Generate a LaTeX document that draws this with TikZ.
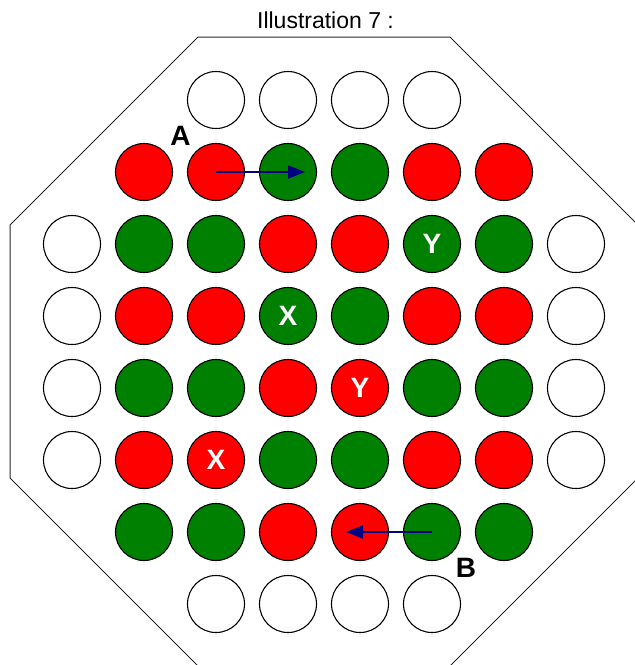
\documentclass[tikz,border=0pt]{standalone}
\usepackage{fontspec}
\setmainfont{Liberation Sans}
\usepackage{xcolor}
\usepackage{tikz}
\usetikzlibrary{arrows.meta,positioning,calc}
\definecolor{pegred}{RGB}{255,0,0}
\definecolor{peggreen}{RGB}{0,128,0}
\definecolor{movblue}{RGB}{0,0,128}

\begin{document}
\begin{tikzpicture}[
    x=1pt, y=-1pt,
    disc/.style={circle, draw=black, line width=1.1pt, minimum size=57pt, inner sep=0pt},
    pe/.style={fill=white},
    pr/.style={fill=pegred},
    pg/.style={fill=peggreen},
    tag/.style={inner sep=0pt, text=white, font=\fontsize{28}{28}\selectfont\bfseries},
    lbl/.style={inner sep=0pt, font=\fontsize{28}{28}\selectfont\bfseries},
    mov/.style={-{Triangle[length=17pt, width=13pt]}, line width=1.8pt, draw=movblue},
]
  \useasboundingbox (0,0) rectangle (635,665);
  \clip (0,0) rectangle (635,665);

  % title
  \node[anchor=base, inner sep=0pt, font=\fontsize{23}{23}\selectfont] (title) at (325.5,28) {Illustration 7 :};

  % board outline
  \draw[line width=1pt, black!85] (198,37) -- (450,37) -- (638,225) -- (638,478)
    -- (450,666) -- (198,666) -- (10,478) -- (10,225) -- cycle;

  % pegs, row by row (first column / colours)
  \foreach \r/\first/\cols in {0/2/{e,e,e,e},
                               1/1/{r,r,g,g,r,r},
                               2/0/{e,g,g,r,r,g,g,e},
                               3/0/{e,r,r,g,g,r,r,e},
                               4/0/{e,g,g,r,r,g,g,e},
                               5/0/{e,r,r,g,g,r,r,e},
                               6/1/{g,g,r,r,g,g},
                               7/2/{e,e,e,e}}{
    \foreach \c [count=\k from \first] in \cols
      \node[disc, p\c] (d\r\k) at (72+72*\k, 100+72*\r) {};
  }

  % marked pegs
  \node[tag] (x1) at (d33) {X};
  \node[tag] (x2) at (d52) {X};
  \node[tag] (y1) at (d25) {Y};
  \node[tag] (y2) at (d44) {Y};

  % moves
  \node[lbl] (labA) at (180.5,135.5) {A};
  \node[lbl] (labB) at (466,568) {B};
  \coordinate (tipA) at ([xshift=17pt]d13.center);
  \coordinate (tipB) at ([xshift=-14pt]d64.center);
  \draw[mov] (d12.center) -- (tipA);
  \draw[mov] (d65.center) -- (tipB);
\end{tikzpicture}
\end{document}
